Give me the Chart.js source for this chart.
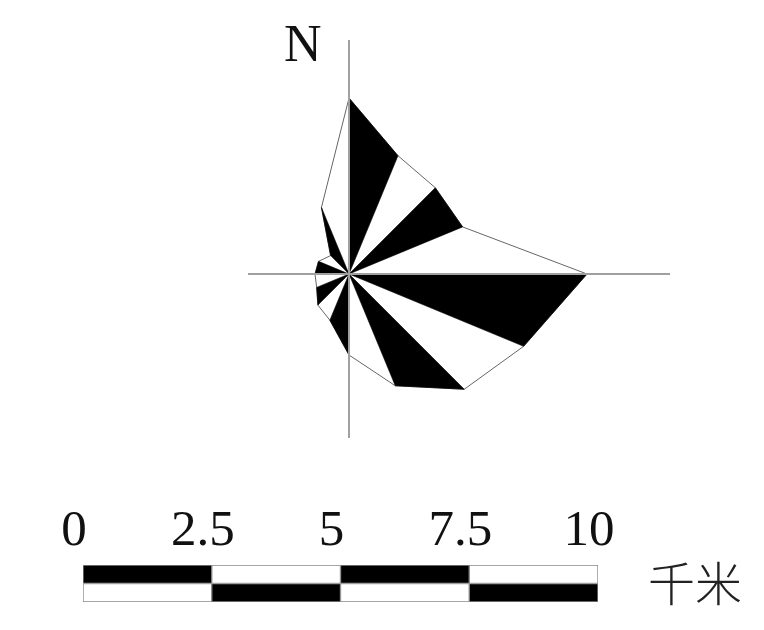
<!DOCTYPE html>
<html>
<head>
<meta charset="utf-8">
<script src="https://cdn.jsdelivr.net/npm/chart.js@4/dist/chart.umd.min.js"></script>
<style>
  html, body { margin: 0; padding: 0; background: #fff; }
  #wrap { position: relative; width: 764px; height: 630px; overflow: hidden; background: #fff; }
  #rose { position: absolute; left: 0; top: 0; }
  #bar { position: absolute; left: 0; top: 490px; }
  .lbl { position: absolute; white-space: nowrap; line-height: 1; }
  #north { left: 284px; top: 18px; font-family: "Liberation Serif", "DejaVu Serif", serif; font-size: 52px; color: #111; }
  #unit { left: 648px; top: 557px; font-family: "Noto Sans CJK SC", sans-serif; font-size: 47px; font-weight: 300; color: #222; }
</style>
</head>
<body>
<div id="wrap">
  <canvas id="rose" width="764" height="630"></canvas>
  <canvas id="bar" width="764" height="140"></canvas>
  <div class="lbl" id="north">N</div>
  <div class="lbl" id="unit">千米</div>
</div>
<script>
// ---- data ----
const directions = ['N','NNE','NE','ENE','E','ESE','SE','SSE','S','SSW','SW','WSW','W','WNW','NW','NNW'];
const radii      = [17.6, 12.8, 12.2, 12.3, 23.8, 18.9, 16.3, 12.1, 8.1, 5.0, 4.4, 3.5, 3.4, 3.3, 2.6, 7.2];
// extents of the cross-hair axis lines (same units as radii)
const axisNorth = 23.4, axisSouth = 16.4, axisWest = 10.1, axisEast = 32.1;
// scale bar
const scaleTicks = [0, 2.5, 5, 7.5, 10];
const scaleRows = ['upper', 'lower'];
const scaleUnit = '千米';

// ---- rose chart ----
function pt(i) {
  const r = radii[i % directions.length];
  const a = (i % directions.length) * 2 * Math.PI / directions.length;
  return { x: r * Math.sin(a), y: r * Math.cos(a) };
}
const roseSets = [];
roseSets.push({ data: [{x: 0, y: axisNorth}, {x: 0, y: -axisSouth}], borderColor: '#a0a0a0', borderWidth: 2, fill: false });
roseSets.push({ data: [{x: -axisWest, y: 0}, {x: axisEast, y: 0}], borderColor: '#a0a0a0', borderWidth: 2, fill: false });
for (let i = 0; i < directions.length; i += 2) {
  roseSets.push({
    data: [{x: 0, y: 0}, pt(i), pt(i + 1), {x: 0, y: 0}],
    fill: 'shape', backgroundColor: '#000', borderColor: '#000', borderWidth: 0.6
  });
}
const outline = directions.map((d, i) => pt(i));
outline.push(pt(0));
roseSets.push({ data: outline, borderColor: '#666', borderWidth: 1, fill: false });
roseSets.forEach(d => { d.showLine = true; d.pointRadius = 0; d.tension = 0; });

new Chart(document.getElementById('rose'), {
  type: 'scatter',
  data: { datasets: roseSets },
  options: {
    responsive: false, animation: false, devicePixelRatio: 1,
    layout: { padding: 0 },
    plugins: { legend: { display: false }, tooltip: { enabled: false } },
    scales: {
      x: { type: 'linear', display: false, min: -34.9, max: 41.5 },
      y: { type: 'linear', display: false, min: -35.6, max: 27.4 }
    }
  }
});

// ---- scale bar ----
const segCount = scaleTicks.length - 1;
const barSets = [];
for (let k = 0; k < segCount; k++) {
  const dark = k % 2 === 0;
  barSets.push({
    data: scaleRows.map(() => scaleTicks[k + 1] - scaleTicks[k]),
    backgroundColor: [dark ? '#000' : '#fff', dark ? '#fff' : '#000'],
    borderColor: '#888', borderWidth: 1, borderSkipped: false,
    barPercentage: 1, categoryPercentage: 1
  });
}
new Chart(document.getElementById('bar'), {
  type: 'bar',
  data: { labels: scaleRows, datasets: barSets },
  options: {
    indexAxis: 'y', responsive: false, animation: false, devicePixelRatio: 1,
    layout: { padding: { left: 83, right: 166, top: 0, bottom: 28 } },
    plugins: { legend: { display: false }, tooltip: { enabled: false } },
    scales: {
      x: {
        type: 'linear', position: 'top', stacked: true,
        min: scaleTicks[0], max: scaleTicks[scaleTicks.length - 1],
        afterBuildTicks: s => { s.ticks = scaleTicks.map(v => ({ value: v })); },
        afterFit: s => { s.height = 75; },
        ticks: {
          autoSkip: false, maxRotation: 0, padding: 3, labelOffset: -9,
          color: '#111', font: { family: 'Liberation Serif', size: 51 },
          callback: v => String(v)
        },
        grid: { display: false, drawTicks: false },
        border: { display: false }
      },
      y: { display: false, stacked: true }
    }
  }
});
</script>
</body>
</html>
